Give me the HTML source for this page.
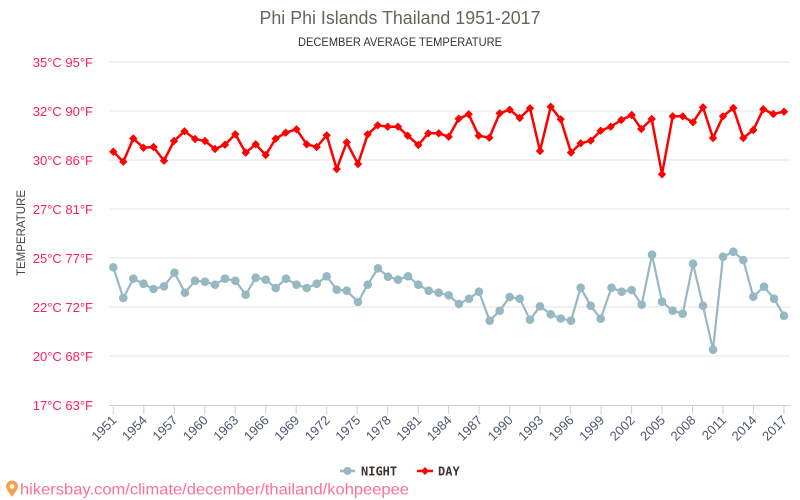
<!DOCTYPE html>
<html><head><meta charset="utf-8"><style>
html,body{margin:0;padding:0;background:#fff;}
svg{display:block;font-family:"Liberation Sans",sans-serif;}
</style></head><body>
<svg width="800" height="500" viewBox="0 0 800 500" xmlns="http://www.w3.org/2000/svg">
<defs>
<marker id="mc" markerUnits="userSpaceOnUse" markerWidth="10" markerHeight="10" refX="5" refY="5" overflow="visible"><circle cx="5" cy="5" r="4.3" fill="#95b8c2"/></marker>
<marker id="md" markerUnits="userSpaceOnUse" markerWidth="10" markerHeight="10" refX="5" refY="5" overflow="visible"><path d="M5 0.8 L9.2 5 L5 9.2 L0.8 5Z" fill="#ff0000"/></marker>
</defs>
<rect width="800" height="500" fill="#fff"/>
<text x="400" y="24" text-anchor="middle" font-size="18" fill="#6b6358" textLength="281" lengthAdjust="spacingAndGlyphs">Phi Phi Islands Thailand 1951-2017</text>
<text x="400" y="46" text-anchor="middle" font-size="11.5" fill="#333" textLength="204" lengthAdjust="spacingAndGlyphs">DECEMBER AVERAGE TEMPERATURE</text>
<g stroke="#e3e3e3" stroke-width="1">
<line x1="109" y1="62" x2="790" y2="62"/><line x1="109" y1="111" x2="790" y2="111"/><line x1="109" y1="160" x2="790" y2="160"/><line x1="109" y1="209" x2="790" y2="209"/><line x1="109" y1="258" x2="790" y2="258"/><line x1="109" y1="307" x2="790" y2="307"/><line x1="109" y1="356" x2="790" y2="356"/>
</g>
<line x1="109" y1="405.5" x2="790" y2="405.5" stroke="#c5d0e3" stroke-width="1"/>
<g fill="#ff1f5a" font-size="13" text-anchor="end">
<text x="93" y="67">35°C 95°F</text><text x="93" y="116">32°C 90°F</text><text x="93" y="165">30°C 86°F</text><text x="93" y="214">27°C 81°F</text><text x="93" y="263">25°C 77°F</text><text x="93" y="312">22°C 72°F</text><text x="93" y="361">20°C 68°F</text><text x="93" y="410">17°C 63°F</text>
</g>
<text transform="translate(25,233) rotate(-90)" text-anchor="middle" font-size="11.5" fill="#444">TEMPERATURE</text>
<g stroke="#c5d0e3" stroke-width="1">
<line x1="113.3" y1="405" x2="113.3" y2="414"/><line x1="143.8" y1="405" x2="143.8" y2="414"/><line x1="174.3" y1="405" x2="174.3" y2="414"/><line x1="204.8" y1="405" x2="204.8" y2="414"/><line x1="235.2" y1="405" x2="235.2" y2="414"/><line x1="265.7" y1="405" x2="265.7" y2="414"/><line x1="296.2" y1="405" x2="296.2" y2="414"/><line x1="326.7" y1="405" x2="326.7" y2="414"/><line x1="357.2" y1="405" x2="357.2" y2="414"/><line x1="387.7" y1="405" x2="387.7" y2="414"/><line x1="418.2" y1="405" x2="418.2" y2="414"/><line x1="448.6" y1="405" x2="448.6" y2="414"/><line x1="479.1" y1="405" x2="479.1" y2="414"/><line x1="509.6" y1="405" x2="509.6" y2="414"/><line x1="540.1" y1="405" x2="540.1" y2="414"/><line x1="570.6" y1="405" x2="570.6" y2="414"/><line x1="601.1" y1="405" x2="601.1" y2="414"/><line x1="631.6" y1="405" x2="631.6" y2="414"/><line x1="662" y1="405" x2="662" y2="414"/><line x1="692.5" y1="405" x2="692.5" y2="414"/><line x1="723" y1="405" x2="723" y2="414"/><line x1="753.5" y1="405" x2="753.5" y2="414"/><line x1="784" y1="405" x2="784" y2="414"/>
</g>
<g font-size="13" fill="#4a5570" text-anchor="end">
<text x="117.3" y="421" transform="rotate(-45 117.3 421)">1951</text>
<text x="147.8" y="421" transform="rotate(-45 147.8 421)">1954</text>
<text x="178.3" y="421" transform="rotate(-45 178.3 421)">1957</text>
<text x="208.8" y="421" transform="rotate(-45 208.8 421)">1960</text>
<text x="239.2" y="421" transform="rotate(-45 239.2 421)">1963</text>
<text x="269.7" y="421" transform="rotate(-45 269.7 421)">1966</text>
<text x="300.2" y="421" transform="rotate(-45 300.2 421)">1969</text>
<text x="330.7" y="421" transform="rotate(-45 330.7 421)">1972</text>
<text x="361.2" y="421" transform="rotate(-45 361.2 421)">1975</text>
<text x="391.7" y="421" transform="rotate(-45 391.7 421)">1978</text>
<text x="422.2" y="421" transform="rotate(-45 422.2 421)">1981</text>
<text x="452.6" y="421" transform="rotate(-45 452.6 421)">1984</text>
<text x="483.1" y="421" transform="rotate(-45 483.1 421)">1987</text>
<text x="513.6" y="421" transform="rotate(-45 513.6 421)">1990</text>
<text x="544.1" y="421" transform="rotate(-45 544.1 421)">1993</text>
<text x="574.6" y="421" transform="rotate(-45 574.6 421)">1996</text>
<text x="605.1" y="421" transform="rotate(-45 605.1 421)">1999</text>
<text x="635.6" y="421" transform="rotate(-45 635.6 421)">2002</text>
<text x="666" y="421" transform="rotate(-45 666 421)">2005</text>
<text x="696.5" y="421" transform="rotate(-45 696.5 421)">2008</text>
<text x="727" y="421" transform="rotate(-45 727 421)">2011</text>
<text x="757.5" y="421" transform="rotate(-45 757.5 421)">2014</text>
<text x="788" y="421" transform="rotate(-45 788 421)">2017</text>
</g>
<polyline fill="none" stroke="#95b8c2" stroke-width="2.2" stroke-linejoin="round" marker-start="url(#mc)" marker-mid="url(#mc)" marker-end="url(#mc)" points="113.3,267.3 123.3,298 133.3,278.7 143.5,283.7 153.5,289 164,286.3 174.5,272.7 185,292.7 195,280.7 205,281.7 215,284.7 225,278.7 235.3,280.7 245.7,294.7 255.7,277.7 265.7,279.7 275.7,288 286,278.7 296.5,284.7 306.7,288 316.7,283.7 326.7,276.3 336.7,289.7 346.7,290.7 358,302 367.7,284.7 378,268.3 388,276.7 398,279.7 408,276.3 418.3,284.7 428.7,290.7 438.7,292.7 448.7,295.3 459,304 469,298.7 479,291.7 489.7,320.7 499.7,310.7 509.7,297 519.7,298.7 530,319.7 540,306.3 550.7,314.3 560.7,318.5 571,320.7 580.7,287.7 590.7,305.7 600.7,318.7 611.5,287.7 621.7,291.7 631.7,290 641.7,304.7 652,254.7 662,301.7 672.7,310.7 682.7,313.7 693,263.7 703,305.7 713,349.7 723,256.7 733.3,251.7 743.3,260 753.3,296.7 764,286.7 774,298.7 784,315.7"/>
<polyline fill="none" stroke="#ff0000" stroke-width="2.5" stroke-linejoin="round" marker-start="url(#md)" marker-mid="url(#md)" marker-end="url(#md)" points="113.3,151.7 123.3,161.7 133.3,138.5 143.5,147.7 153.5,147 164,160.7 174,141 184.5,131.3 195,139 205,141 215,149 225,144.7 235.3,134.3 245.7,152.7 255.7,144.3 265.7,155 275.7,138.7 285.7,132.7 296.5,129.3 306.7,144.3 316.7,147 326.7,135.3 336.7,169 346.7,142.3 358,164 367.7,134.3 377.7,125.3 387.7,126.7 398,126.7 407.7,135.7 418.3,145 428.3,133.3 438.7,133.3 448.7,136.7 458.7,118.7 468.7,114.3 478.7,135.7 489.3,137.7 499.7,113.3 509.7,109.7 519.7,118 530,108.3 540,151 550.7,106.7 560.7,119.3 571,152.5 580.7,143.3 590.7,140.7 600.7,130.7 610.7,126.7 621.3,120 631.7,115 641.3,129 651.7,119 662,174.3 672.7,116.3 682.7,116.3 693,122.3 703,107.3 713,138 723,116.3 733.3,108 743.3,138 753.3,130 763.3,109.3 773.3,114 784,111.7"/>
<line x1="340" y1="471" x2="355" y2="471" stroke="#95b8c2" stroke-width="2.5"/>
<circle cx="347.5" cy="471" r="4" fill="#95b8c2"/>
<text x="361" y="475.5" font-family="DejaVu Sans Mono,monospace" font-weight="bold" font-size="12" fill="#3d3530">NIGHT</text>
<line x1="417" y1="471" x2="433" y2="471" stroke="#ff0000" stroke-width="2.5"/>
<path d="M425 467 L429 471 L425 475 L421 471Z" fill="#ff0000"/>
<text x="438" y="475.5" font-family="DejaVu Sans Mono,monospace" font-weight="bold" font-size="12" fill="#3d3530">DAY</text>
<path d="M12 497 C8 491 6 489 6 486.5 A6 6 0 0 1 18 486.5 C18 489 16 491 12 497Z" fill="#f5a04a"/>
<circle cx="12" cy="486.5" r="2.3" fill="#fff"/>
<text x="20" y="494.5" font-size="16" fill="#ff7096" textLength="389" lengthAdjust="spacingAndGlyphs">hikersbay.com/climate/december/thailand/kohpeepee</text>
</svg>
</body></html>
